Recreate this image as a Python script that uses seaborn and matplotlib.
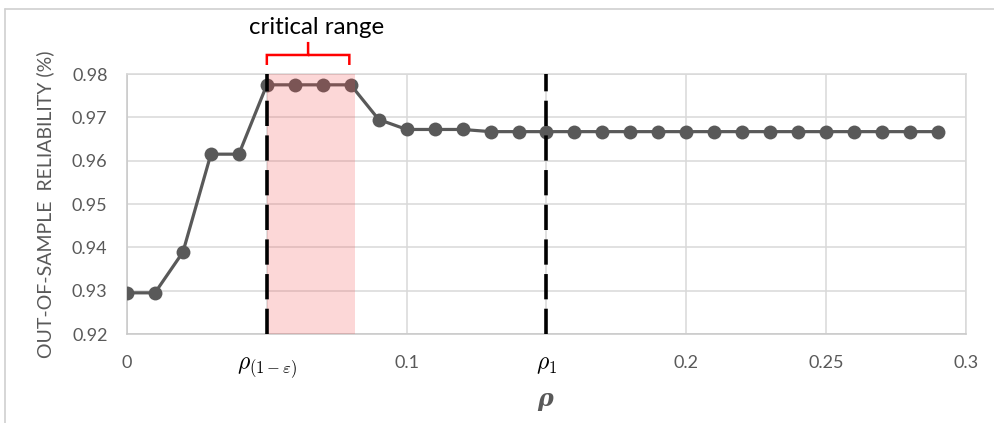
import numpy as np
import pandas as pd
import matplotlib
matplotlib.use("Agg")
import matplotlib.pyplot as plt
import seaborn as sns
from matplotlib.path import Path
from matplotlib.patches import PathPatch
from matplotlib.lines import Line2D

# Out-of-sample reliability as a function of the radius rho
rho = [0.00, 0.01, 0.02, 0.03, 0.04, 0.05, 0.06, 0.07, 0.08, 0.09,
       0.10, 0.11, 0.12, 0.13, 0.14, 0.15, 0.16, 0.17, 0.18, 0.19,
       0.20, 0.21, 0.22, 0.23, 0.24, 0.25, 0.26, 0.27, 0.28, 0.29]
reliability = [0.9295, 0.9295, 0.9389, 0.9615, 0.9615, 0.9775, 0.9775, 0.9775, 0.9775, 0.9695,
               0.9672, 0.9672, 0.9672, 0.9667, 0.9667, 0.9667, 0.9667, 0.9667, 0.9667, 0.9667,
               0.9667, 0.9667, 0.9667, 0.9667, 0.9667, 0.9667, 0.9667, 0.9667, 0.9667, 0.9667]

x_ticks = [0.0, 0.05, 0.10, 0.15, 0.20, 0.25, 0.30]
x_tick_labels = ["0", r"$\rho_{(1-\varepsilon)}$", "0.1", r"$\rho_1$", "0.2", "0.25", "0.3"]
y_ticks = [0.92, 0.93, 0.94, 0.95, 0.96, 0.97, 0.98]
y_tick_labels = ["0.92", "0.93", "0.94", "0.95", "0.96", "0.97", "0.98"]

rho_crit = 0.05        # rho_(1-eps)
rho_one = 0.15         # rho_1
crit_end = 0.0815      # right edge of the critical range band
brace_end = 0.0795

sns.set_theme(style="whitegrid")
plt.rcParams["font.family"] = ["Lato", "DejaVu Sans"]
plt.rcParams["mathtext.fontset"] = "cm"

GRAY = "#595959"
GRID = "#D9D9D9"

fig = plt.figure(figsize=(9.95, 4.23), dpi=100)
ax = fig.add_axes([127 / 995, 89 / 423, 839 / 995, 260 / 423])

df = pd.DataFrame({"rho": rho, "reliability": reliability})
sns.lineplot(data=df, x="rho", y="reliability", ax=ax, color=GRAY,
             linewidth=2.3, marker="o", markersize=10, markeredgewidth=0,
             zorder=3)

# critical range band, drawn over the curve
ax.axvspan(rho_crit, crit_end, color="#F44B4B", alpha=0.22, lw=0, zorder=4)

# reference radii
for xv in (rho_crit, rho_one):
    ax.axvline(xv, color="black", lw=2.6, dashes=(7, 2.6), zorder=5)

ax.set_xlim(0, 0.30)
ax.set_ylim(0.92, 0.98)
ax.set_xticks(x_ticks)
ax.set_yticks(y_ticks)
ax.set_yticklabels(y_tick_labels)
ax.set_xticklabels(x_tick_labels)
for lbl in ax.get_xticklabels():
    if lbl.get_text().startswith("$"):
        lbl.set_fontsize(17)
        lbl.set_color("black")
    else:
        lbl.set_fontsize(13)
        lbl.set_color(GRAY)
for lbl in ax.get_yticklabels():
    lbl.set_fontsize(13)
    lbl.set_color(GRAY)
ax.tick_params(axis="x", length=0, pad=15)
ax.tick_params(axis="y", length=0, pad=14)
ax.grid(True, color=GRID, linewidth=1.1)
for side, sp in ax.spines.items():
    sp.set_visible(True)
    sp.set_color(GRID if side in ("top", "right") else "#C8C8C8")
    sp.set_linewidth(1.1)
ax.set_xlabel("")
ax.set_ylabel("")

# brace over the critical range
x0, x1 = rho_crit, brace_end
xm = 0.5 * (x0 + x1)
yb, yh, yt = 0.98208, 0.98439, 0.98740
r = 0.0022
verts = [
    (x0, yb), (x0, yh), (x0, yh), (x0 + r, yh),
    (xm - r, yh), (xm, yh), (xm, yh), (xm, yt),
    (xm, yh), (xm, yh), (xm + r, yh),
    (x1 - r, yh), (x1, yh), (x1, yh), (x1, yb),
]
codes = [
    Path.MOVETO, Path.LINETO, Path.CURVE3, Path.CURVE3,
    Path.LINETO, Path.CURVE3, Path.CURVE3, Path.LINETO,
    Path.MOVETO, Path.CURVE3, Path.CURVE3,
    Path.LINETO, Path.CURVE3, Path.CURVE3, Path.LINETO,
]
ax.add_patch(PathPatch(Path(verts, codes), facecolor="none", edgecolor="#FF0000",
                       lw=1.8, clip_on=False, zorder=6))
ax.text(0.0679, 0.9907, "critical range", ha="center", va="center",
        fontsize=17.3, color="black", clip_on=False)

# axis titles
fig.text(45 / 995, 1 - 204 / 423, "OUT-OF-SAMPLE  RELIABILITY (%)", rotation=90,
         ha="center", va="center", fontsize=14, color=GRAY)
fig.text(545 / 995, 1 - 399 / 423, "ρ", ha="center", va="center", fontsize=17,
         fontweight="bold", fontstyle="italic", color=GRAY,
         family=["DejaVu Serif", "DejaVu Sans"])

# outer frame
fig.add_artist(Line2D([5 / 995, 1.0], [1 - 9 / 423, 1 - 9 / 423], color="#D0D0D0", lw=1.2,
                      transform=fig.transFigure))
fig.add_artist(Line2D([5 / 995, 5 / 995], [0.0, 1 - 9 / 423], color="#D0D0D0", lw=1.2,
                      transform=fig.transFigure))

fig.savefig("out.png", dpi=100, facecolor="white")
